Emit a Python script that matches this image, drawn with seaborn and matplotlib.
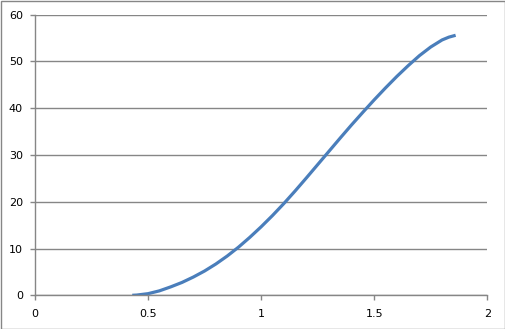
import matplotlib
matplotlib.use("Agg")
import matplotlib.pyplot as plt
from matplotlib.patches import Rectangle
import seaborn as sns
import pandas as pd

x_values = [0.43, 0.45, 0.5, 0.55, 0.6, 0.65, 0.7, 0.75, 0.8, 0.85, 0.9, 0.95, 1.0, 1.05,
            1.1, 1.15, 1.2, 1.25, 1.3, 1.35, 1.4, 1.45, 1.5, 1.55, 1.6, 1.65, 1.7, 1.75,
            1.8, 1.83, 1.86]
y_values = [0.0, 0.05, 0.35, 0.95, 1.8, 2.75, 3.9, 5.2, 6.7, 8.4, 10.3, 12.4, 14.65, 17.05,
            19.6, 22.3, 25.1, 27.95, 30.8, 33.65, 36.45, 39.15, 41.8, 44.35, 46.8, 49.1,
            51.25, 53.1, 54.6, 55.2, 55.6]
x_ticks = [0, 0.5, 1, 1.5, 2]
x_tick_labels = ["0", "0.5", "1", "1.5", "2"]
y_ticks = [0, 10, 20, 30, 40, 50, 60]

sns.set_style("white")
plt.rcParams['font.family'] = ['DejaVu Sans']

grey = "#868686"
fig = plt.figure(figsize=(5.06, 3.29), dpi=100)
ax = fig.add_axes([35/506, (329-295.3)/329, (487.3-35)/506, (295.3-14.7)/329])

df = pd.DataFrame({"x": x_values, "y": y_values})
sns.lineplot(data=df, x="x", y="y", ax=ax, color="#4A7EBB", linewidth=2.3,
             sort=False, estimator=None, solid_joinstyle="round", solid_capstyle="butt")

ax.set_xlim(0, 2)
ax.set_ylim(0, 60)
ax.set_xticks(x_ticks)
ax.set_xticklabels(x_tick_labels)
ax.set_yticks(y_ticks)
ax.set_xlabel("")
ax.set_ylabel("")

ax.yaxis.grid(True, color=grey, linewidth=1)
ax.xaxis.grid(False)
ax.set_axisbelow(True)
for s in ["top", "right"]:
    ax.spines[s].set_visible(False)
for s in ["left", "bottom"]:
    ax.spines[s].set_color(grey)
    ax.spines[s].set_linewidth(1)

ax.tick_params(axis="both", which="major", direction="out", length=3.6,
               width=1, color=grey, labelsize=8, labelcolor="black")
ax.tick_params(axis="y", pad=5, left=True)
ax.tick_params(axis="x", pad=6, bottom=True)

fig.patches.append(Rectangle((0.001, 0.0015), 0.997, 0.996, transform=fig.transFigure,
                             fill=False, edgecolor=grey, linewidth=1))

fig.savefig("out.png", dpi=100)
